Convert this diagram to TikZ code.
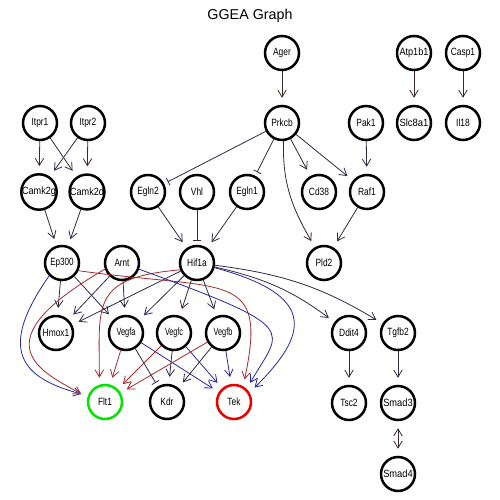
\documentclass[tikz,border=0pt]{standalone}
\usepackage{fontspec}
\setmainfont{Liberation Sans}
\usetikzlibrary{arrows.meta}
\definecolor{er}{RGB}{165,42,42}
\definecolor{eb}{RGB}{40,40,165}
\definecolor{ek}{RGB}{45,45,70}
\definecolor{en}{RGB}{60,40,40}
\newcommand\gl[1]{\scalebox{0.8}[1]{#1}}
\newcommand\gw[2]{\resizebox{#1pt}{\height}{#2}}
\begin{document}
\begin{tikzpicture}[x=1pt,y=1pt,
  >={Straight Barb[length=7pt,width=8.5pt]},
  gn/.style={circle,draw=black,line width=2.5pt,minimum size=34pt,inner sep=0pt,
    font=\fontsize{10.5}{12}\selectfont},
  ed/.style={line width=0.8pt,draw=ek,->,shorten >=7pt},
  inh/.style={line width=0.8pt,draw=ek,-{Bar[width=8.5pt]},shorten >=4pt},
  bid/.style={line width=0.8pt,draw=en,<->,shorten >=7pt,shorten <=7pt}]
\fill[white] (0,0) rectangle (500,500);
\useasboundingbox (0,0) rectangle (500,500);
\node[anchor=base,font=\fontsize{14.3}{14}\selectfont] (title) at (250,480) {GGEA Graph};
% nodes
\node[gn] (Ager) at (282,447) {\gl{Ager}};
\node[gn] (Atp1b1) at (414,447) {\gw{29}{Atp1b1}};
\node[gn] (Casp1) at (463,447) {\gl{Casp1}};
\node[gn] (Itpr1) at (40,377) {\gl{Itpr1}};
\node[gn] (Itpr2) at (88,377) {\gl{Itpr2}};
\node[gn] (Prkcb) at (282,377) {\gl{Prkcb}};
\node[gn] (Pak1) at (366,377) {\gl{Pak1}};
\node[gn] (Slc8a1) at (414,377) {\gw{29}{Slc8a1}};
\node[gn] (Il18) at (463,377) {\gl{Il18}};
\node[gn] (Camk2g) at (39,308) {\gw{34}{Camk2g}};
\node[gn] (Camk2d) at (87,308) {\gw{34}{Camk2d}};
\node[gn] (Egln2) at (148,308) {\gl{Egln2}};
\node[gn] (Vhl) at (197,308) {\gl{Vhl}};
\node[gn] (Egln1) at (247,308) {\gl{Egln1}};
\node[gn] (Cd38) at (319,308) {\gl{Cd38}};
\node[gn] (Raf1) at (367,308) {\gl{Raf1}};
\node[gn] (Ep300) at (62,237) {\gw{23.5}{Ep300}};
\node[gn] (Arnt) at (122,237) {\gw{15}{Arnt}};
\node[gn] (Hif1a) at (197,237) {\gl{Hif1a}};
\node[gn] (Pld2) at (324,237) {\gl{Pld2}};
\node[gn] (Hmox1) at (56,167) {\gl{Hmox1}};
\node[gn] (Vegfa) at (126,167) {\gw{19}{Vegfa}};
\node[gn] (Vegfc) at (174,167) {\gw{18}{Vegfc}};
\node[gn] (Vegfb) at (223,167) {\gw{18.7}{Vegfb}};
\node[gn] (Ddit4) at (349,167) {\gl{Ddit4}};
\node[gn] (Tgfb2) at (398,167) {\gl{Tgfb2}};
\node[gn,draw={rgb,255:red,0;green,230;blue,0}] (Flt1) at (105,98) {\gl{Flt1}};
\node[gn] (Kdr) at (167,98) {\gl{Kdr}};
\node[gn,draw={rgb,255:red,235;green,0;blue,0}] (Tek) at (234,98) {\gl{Tek}};
\node[gn] (Tsc2) at (349,97) {\gl{Tsc2}};
\node[gn] (Smad3) at (398,97) {\gw{29.5}{Smad3}};
\node[gn] (Smad4) at (398,26) {\gw{29.5}{Smad4}};
% edges
\draw[ed,draw=en] (Ager) -- (Prkcb);
\draw[ed,draw=en] (Atp1b1) -- (Slc8a1);
\draw[ed,draw=en] (Casp1) -- (Il18);
\draw[ed,draw=en] (Itpr1) -- (Camk2g);
\draw[ed] (Itpr1) -- (Camk2d);
\draw[ed] (Itpr2) -- (Camk2g);
\draw[ed,draw=en] (Itpr2) -- (Camk2d);
\draw[ed] (Camk2g) -- (Ep300);
\draw[ed] (Camk2d) -- (Ep300);
\draw[inh] (Prkcb) -- (Egln2);
\draw[inh] (Prkcb) -- (Egln1);
\draw[ed,draw=en] (Prkcb) -- (Cd38);
\draw[ed] (Prkcb) -- (Raf1);
\draw[ed,draw=en] (Prkcb.-85) to[out=-92,in=120] (Pld2.120);
\draw[ed] (Pak1) -- (Raf1);
\draw[ed] (Raf1) -- (Pld2);
\draw[ed] (Egln2) -- (Hif1a);
\draw[inh,draw=en] (Vhl) -- (Hif1a);
\draw[ed] (Egln1) -- (Hif1a);
\draw[ed] (Ep300) -- (Hmox1);
\draw[ed] (Ep300) -- (Vegfa);
\draw[ed] (Arnt) -- (Hmox1);
\draw[ed] (Arnt) -- (Vegfa);
\draw[ed] (Hif1a) -- (Hmox1);
\draw[ed] (Hif1a) -- (Vegfa);
\draw[ed,draw=en] (Hif1a) -- (Vegfc);
\draw[ed] (Hif1a) -- (Vegfb);
\draw[ed] (Hif1a) to[bend left=12] (Ddit4);
\draw[ed] (Hif1a) to[bend left=12] (Tgfb2);
\draw[ed,draw=eb] (Ep300.-135) .. controls +(-125:90) and +(165:70) .. (Flt1.160);
\draw[ed,draw=er] (Arnt.-160) .. controls +(-150:150) and +(150:50) .. (Flt1.166);
\draw[ed,draw=er] (Hif1a.-158) .. controls +(-175:90) and +(90:80) .. (Flt1.108);
\draw[ed,draw=er] (Ep300.-25) .. controls +(-8:150) and +(78:120) .. (Tek.60);
\draw[ed,draw=eb] (Arnt.-20) .. controls +(-20:175) and +(60:70) .. (Tek.46);
\draw[ed,draw=eb] (Hif1a.-15) .. controls +(-15:110) and +(45:80) .. (Tek.31);
\draw[ed,draw=er] (Vegfa) -- (Flt1);
\draw[inh] (Vegfa) -- (Kdr);
\draw[ed,draw=eb] (Vegfa) -- (Tek);
\draw[ed,draw=er] (Vegfc) -- (Flt1);
\draw[ed] (Vegfc) -- (Kdr);
\draw[ed,draw=eb] (Vegfc) -- (Tek);
\draw[ed,draw=er] (Vegfb) -- (Flt1);
\draw[ed] (Vegfb) -- (Kdr);
\draw[ed,draw=eb] (Vegfb) -- (Tek);
\draw[ed,draw=en] (Ddit4) -- (Tsc2);
\draw[ed] (Tgfb2) -- (Smad3);
\draw[bid] (Smad3) -- (Smad4);
\end{tikzpicture}
\end{document}
